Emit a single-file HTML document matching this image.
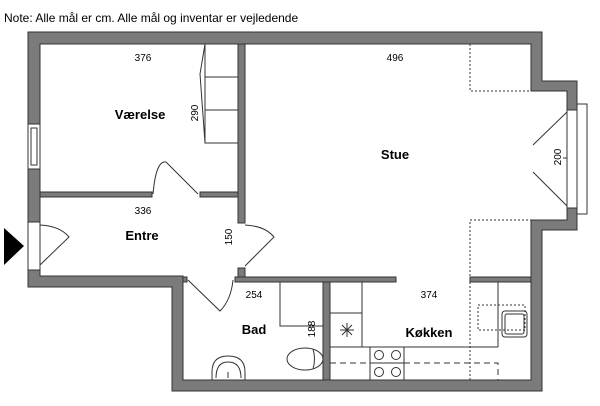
<!DOCTYPE html>
<html><head><meta charset="utf-8"><style>
html,body{margin:0;padding:0;background:#fff;width:600px;height:406px;overflow:hidden}
text{font-family:"Liberation Sans",sans-serif;fill:#000}
</style></head><body>
<svg width="600" height="406" viewBox="0 0 600 406" xmlns="http://www.w3.org/2000/svg">
<text x="4" y="22" font-size="12">Note: Alle mål er cm. Alle mål og inventar er vejledende</text>
<g fill="#7b7b7b" stroke="#333" stroke-width="1">
<!-- outer walls as polygon ring -->
<path fill-rule="evenodd" d="M28,32 L542,32 L542,81 L577,81 L577,230 L542,230 L542,391 L172,391 L172,287 L28,287 Z
 M40,44 L40,276 L183,276 L183,380 L531,380 L531,220 L567,220 L567,91 L531,91 L531,44 Z"/>
<!-- interior walls -->
<rect x="40" y="192" width="112" height="5"/>
<rect x="200" y="192" width="38" height="5"/>
<rect x="238" y="44" width="7" height="179"/>
<rect x="238" y="268" width="7" height="9"/>
<rect x="183" y="277" width="4" height="5"/>
<rect x="235" y="277" width="161" height="5"/>
<rect x="470" y="277" width="61" height="5"/>
<rect x="323" y="282" width="7" height="98"/>
</g>
<!-- window/door openings (white cut) -->
<g fill="#fff" stroke="#333" stroke-width="1">
<rect x="28" y="124" width="12" height="45"/>
<rect x="31" y="128" width="6" height="37"/>
<rect x="28" y="222" width="12" height="48"/>
<rect x="567" y="110" width="11" height="98"/>
<rect x="577" y="104" width="10" height="110"/>
</g>
<line x1="40" y1="222" x2="40" y2="270" stroke="#333"/>
<!-- doors -->
<g fill="none" stroke="#333" stroke-width="1">
<path d="M40,225 Q60,226 69,237 L40,265"/>
<path d="M153,194 Q156,160 166,162 L198,194"/>
<path d="M245,225 Q265,226 274,237 L245,266"/>
<path d="M188,280 L220,311 Q231,300 233,280"/>
<path d="M567,112 L533,145 L567,112 M567,206 L533,172"/>
<line x1="563" y1="158" x2="567" y2="158"/>
<!-- wardrobe -->
<path d="M205,44 L200,74 L205,143 L238,143 M205,77 L238,77 M205,110 L238,110 M205,44 L205,143"/>
<!-- kitchen -->
<path d="M330,313 L362,313 M362,282 L362,347 M330,347 L498,347 M498,282 L498,347"/>
<path d="M340,330 L354,330 M347,323 L347,337 M342,325 L352,335 M352,325 L342,335"/>
<rect x="370" y="347" width="34" height="33"/>
<line x1="370" y1="363" x2="404" y2="363"/>
<circle cx="379" cy="355" r="4.5"/><circle cx="396" cy="355" r="4.5"/>
<circle cx="379" cy="372" r="4.5"/><circle cx="396" cy="372" r="4.5"/>
<path d="M330,363 L370,363 M404,363 L498,363 L498,380" stroke-dasharray="6,4"/>
<rect x="502" y="311" width="25" height="26" rx="3"/>
<rect x="505" y="314" width="19" height="20" rx="2"/>
<path d="M478,305 L525,305 L525,330 L478,330 Z" stroke-dasharray="2,2"/>
<!-- stue dotted -->
<path d="M470,44 L470,91 L531,91 M470,380 L470,220 L531,220" stroke-dasharray="2,2"/>
<!-- bad -->
<path d="M280,282 L280,326 L323,326"/>
<line x1="300" y1="326" x2="323" y2="326" stroke-dasharray="4,3"/>
<ellipse cx="305" cy="359" rx="18" ry="11"/>
<path d="M313,349 Q316,359 313,369"/>
<path d="M212,380 L212,372 Q212,356 228,356 Q245,356 245,372 L245,380"/>
<path d="M216,378 Q216,362 228,362 Q241,362 241,378"/>
<line x1="228" y1="372" x2="228" y2="378"/>
</g>
<polygon points="4,228 24,246 4,265" fill="#000"/>
<g font-size="10" text-anchor="middle">
<text x="143" y="61">376</text>
<text x="395" y="61">496</text>
<text x="143" y="214">336</text>
<text x="254" y="298">254</text>
<text x="429" y="298">374</text>
<text transform="translate(198,113) rotate(-90)">290</text>
<text transform="translate(561,157) rotate(-90)">200</text>
<text transform="translate(232,237) rotate(-90)">150</text>
<text transform="translate(315,329) rotate(-90)">188</text>
</g>
<g font-size="13" font-weight="bold" text-anchor="middle">
<text x="140" y="119">Værelse</text>
<text x="395" y="159">Stue</text>
<text x="142" y="240">Entre</text>
<text x="254" y="334">Bad</text>
<text x="429" y="337">Køkken</text>
</g>
</svg>
</body></html>
